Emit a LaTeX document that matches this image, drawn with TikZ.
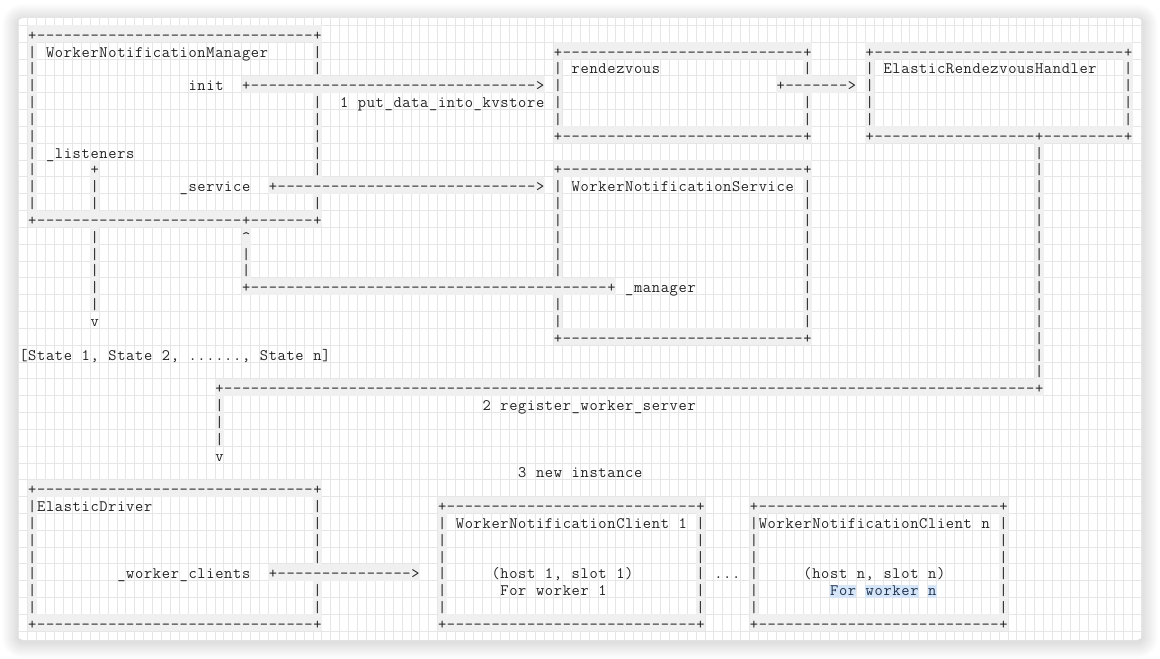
\documentclass[tikz,border=0pt]{standalone}
\usepackage{fontspec}
\definecolor{bandgray}{HTML}{F0F0F0}
\definecolor{gridc}{HTML}{E6E6E6}
\definecolor{txtc}{HTML}{222222}
\definecolor{hlblue}{HTML}{D6E6F8}
\definecolor{hltext}{HTML}{1E3350}
\newcommand\asciifont{\ttfamily\fontsize{16pt}{16pt}\selectfont}
\def\cw{8.91}
\def\chh{16.83}
\def\xo{23.4}
\def\yo{35}
\tikzset{
  band/.style={fill=bandgray},
  chr/.style={font=\asciifont, anchor=base, inner sep=0pt, outer sep=0pt, text=txtc},
  gridline/.style={draw=gridc, line width=0.9pt},
  hl/.style={fill=hlblue}
}
\ExplSyntaxOn
\int_new:N \l_asc_col_int
\str_new:N \l_asc_line_str
\tl_new:N \l_asc_x_tl
\tl_new:N \l_asc_y_tl
\bool_new:N \g_asc_band_bool
\cs_new:Npn \dsh #1 { \prg_replicate:nn {#1} {-} }
\NewDocumentCommand \ascbands { } { \bool_gset_true:N \g_asc_band_bool }
\NewDocumentCommand \ascchars { } { \bool_gset_false:N \g_asc_band_bool }
\NewDocumentCommand \seg { O{} m m m }
  {
    \str_set:Nx \l_asc_line_str {#4}
    \int_set:Nn \l_asc_col_int {#3}
    \str_map_inline:Nn \l_asc_line_str
      {
        \tl_if_blank:nF {##1}
          {
            \bool_if:NTF \g_asc_band_bool
              {
                \str_if_in:nnT { +-|>^ } {##1}
                  {
                    \tl_set:Nx \l_asc_x_tl { \fp_eval:n { \xo + (\l_asc_col_int - 0.5) * \cw } }
                    \tl_set:Nx \l_asc_y_tl { \fp_eval:n { \yo + #2 * \chh - 9.63 } }
                    \fill [band] ( \l_asc_x_tl , \l_asc_y_tl ) rectangle ++ ( \cw , \chh ) ;
                  }
              }
              {
                \tl_set:Nx \l_asc_x_tl { \fp_eval:n { \xo + \l_asc_col_int * \cw } }
                \tl_set:Nx \l_asc_y_tl { \fp_eval:n { \yo + #2 * \chh + 5.3 } }
                \node [chr, #1] ( c-#2-\int_use:N \l_asc_col_int ) at ( \l_asc_x_tl , \l_asc_y_tl ) {##1} ;
              }
          }
        \int_incr:N \l_asc_col_int
      }
  }
\ExplSyntaxOff
\newcommand\allsegs{%
% row 0
\seg{0}{1}{+\dsh{31}+}
% row 1
\seg{1}{1}{| WorkerNotificationManager}
\seg{1}{33}{|}
\seg{1}{60}{+\dsh{27}+}
\seg{1}{95}{+\dsh{28}+}
% row 2
\seg{2}{1}{|}
\seg{2}{33}{|}
\seg{2}{60}{| rendezvous}
\seg{2}{88}{|}
\seg{2}{95}{| ElasticRendezvousHandler}
\seg{2}{124}{|}
% row 3
\seg{3}{1}{|}
\seg{3}{19}{init}
\seg{3}{25}{+\dsh{32}>}
\seg{3}{60}{|}
\seg{3}{85}{+\dsh{7}>}
\seg{3}{95}{|}
\seg{3}{124}{|}
% row 4
\seg{4}{1}{|}
\seg{4}{33}{|}
\seg{4}{36}{1 put_data_into_kvstore}
\seg{4}{60}{|}
\seg{4}{88}{|}
\seg{4}{95}{|}
\seg{4}{124}{|}
% row 5
\seg{5}{1}{|}
\seg{5}{33}{|}
\seg{5}{60}{|}
\seg{5}{88}{|}
\seg{5}{95}{|}
\seg{5}{124}{|}
% row 6
\seg{6}{1}{|}
\seg{6}{33}{|}
\seg{6}{60}{+\dsh{27}+}
\seg{6}{95}{+\dsh{18}+\dsh{9}+}
% row 7
\seg{7}{1}{| _listeners}
\seg{7}{33}{|}
\seg{7}{114}{|}
% row 8
\seg{8}{1}{|}
\seg{8}{8}{+}
\seg{8}{33}{|}
\seg{8}{60}{+\dsh{27}+}
\seg{8}{114}{|}
% row 9
\seg{9}{1}{|}
\seg{9}{8}{|}
\seg{9}{18}{_service}
\seg{9}{28}{+\dsh{29}>}
\seg{9}{60}{| WorkerNotificationService |}
\seg{9}{114}{|}
% row 10
\seg{10}{1}{|}
\seg{10}{8}{|}
\seg{10}{33}{|}
\seg{10}{60}{|}
\seg{10}{88}{|}
\seg{10}{114}{|}
% row 11
\seg{11}{1}{+\dsh{23}+\dsh{7}+}
\seg{11}{60}{|}
\seg{11}{88}{|}
\seg{11}{114}{|}
% row 12
\seg{12}{8}{|}
\seg{12}{25}{^}
\seg{12}{60}{|}
\seg{12}{88}{|}
\seg{12}{114}{|}
% rows 13-14
\seg{13}{8}{|}
\seg{13}{25}{|}
\seg{13}{60}{|}
\seg{13}{88}{|}
\seg{13}{114}{|}
\seg{14}{8}{|}
\seg{14}{25}{|}
\seg{14}{60}{|}
\seg{14}{88}{|}
\seg{14}{114}{|}
% row 15
\seg{15}{8}{|}
\seg{15}{25}{+\dsh{40}+}
\seg{15}{68}{_manager}
\seg{15}{88}{|}
\seg{15}{114}{|}
% row 16
\seg{16}{8}{|}
\seg{16}{60}{|}
\seg{16}{88}{|}
\seg{16}{114}{|}
% row 17
\seg{17}{8}{v}
\seg{17}{60}{|}
\seg{17}{88}{|}
\seg{17}{114}{|}
% row 18
\seg{18}{60}{+\dsh{27}+}
\seg{18}{114}{|}
% row 19
\seg{19}{0}{[State 1, State 2, ......, State n]}
\seg{19}{114}{|}
% row 20
\seg{20}{114}{|}
% row 21
\seg{21}{22}{+\dsh{91}+}
% row 22-25
\seg{22}{22}{|}
\seg{22}{52}{2 register_worker_server}
\seg{23}{22}{|}
\seg{24}{22}{|}
\seg{25}{22}{v}
% row 26
\seg{26}{56}{3 new instance}
% row 27
\seg{27}{1}{+\dsh{31}+}
% row 28
\seg{28}{1}{|ElasticDriver}
\seg{28}{33}{|}
\seg{28}{47}{+\dsh{28}+}
\seg{28}{82}{+\dsh{27}+}
% row 29
\seg{29}{1}{|}
\seg{29}{33}{|}
\seg{29}{47}{| WorkerNotificationClient 1 |}
\seg{29}{82}{|WorkerNotificationClient n |}
% rows 30-31
\seg{30}{1}{|}
\seg{30}{33}{|}
\seg{30}{47}{|}
\seg{30}{76}{|}
\seg{30}{82}{|}
\seg{30}{110}{|}
\seg{31}{1}{|}
\seg{31}{33}{|}
\seg{31}{47}{|}
\seg{31}{76}{|}
\seg{31}{82}{|}
\seg{31}{110}{|}
% row 32
\seg{32}{1}{|}
\seg{32}{11}{_worker_clients}
\seg{32}{28}{+\dsh{15}>}
\seg{32}{47}{|}
\seg{32}{53}{(host 1, slot 1)}
\seg{32}{76}{|}
\seg{32}{78}{...}
\seg{32}{82}{|}
\seg{32}{88}{(host n, slot n)}
\seg{32}{110}{|}
% row 33
\seg{33}{1}{|}
\seg{33}{33}{|}
\seg{33}{47}{|}
\seg{33}{54}{For worker 1}
\seg{33}{76}{|}
\seg{33}{82}{|}
\seg[text=hltext]{33}{91}{For worker n}
\seg{33}{110}{|}
% row 34
\seg{34}{1}{|}
\seg{34}{33}{|}
\seg{34}{47}{|}
\seg{34}{76}{|}
\seg{34}{82}{|}
\seg{34}{110}{|}
% row 35
\seg{35}{1}{+\dsh{31}+}
\seg{35}{47}{+\dsh{28}+}
\seg{35}{82}{+\dsh{27}+}
}
\begin{document}
\begin{tikzpicture}[x=1pt,y=-1pt]
\useasboundingbox (0,0) rectangle (1160,659);
\fill[white] (0,0) rectangle (1160,659);
\foreach \i in {1,...,16} {
  \fill[black, opacity=0.0065, rounded corners={5pt+\i pt}] ({18-\i},{18-\i+2}) rectangle ({1142+\i},{640+\i+2});
}
\fill[white, rounded corners=5pt] (18,18) rectangle (1142,640);
\begin{scope}
  \clip[rounded corners=5pt] (18,18) rectangle (1142,640);
  \foreach \k in {0,...,126} {
    \draw[gridline] ({18.94+\k*8.91},18) -- ({18.94+\k*8.91},640);
  }
  \foreach \k in {0,...,36} {
    \draw[gridline] (18,{25.37+\k*16.83}) -- (1142,{25.37+\k*16.83});
  }
\end{scope}
\fill[hl] ({\xo+90.5*\cw},{\yo+33*\chh-5.4}) rectangle ({\xo+93.5*\cw},{\yo+33*\chh+7.3});
\fill[hl] ({\xo+94.5*\cw},{\yo+33*\chh-5.4}) rectangle ({\xo+100.5*\cw},{\yo+33*\chh+7.3});
\fill[hl] ({\xo+101.5*\cw},{\yo+33*\chh-5.4}) rectangle ({\xo+102.5*\cw},{\yo+33*\chh+7.3});
\ascbands
\allsegs
\ascchars
\allsegs
\end{tikzpicture}
\end{document}
